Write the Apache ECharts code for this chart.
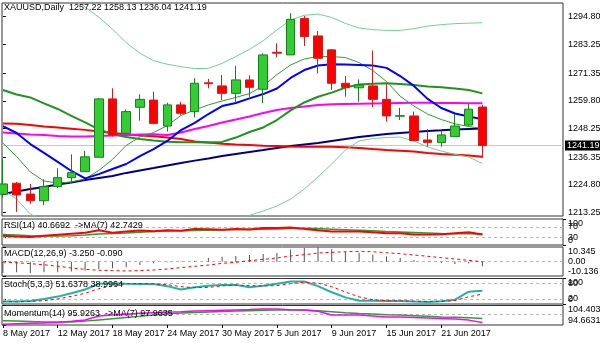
<!DOCTYPE html>
<html><head><meta charset="utf-8">
<script src="https://cdn.jsdelivr.net/npm/echarts@6/dist/echarts.min.js"></script>
<style>html,body{margin:0;padding:0;background:#fff}#c{width:600px;height:343px}</style>
</head><body><div id="c"></div>
<script>
// ---------- data ----------
const dates = ['8 May 2017','9 May 2017','10 May 2017','11 May 2017','12 May 2017','15 May 2017','16 May 2017','17 May 2017','18 May 2017','19 May 2017','22 May 2017','23 May 2017','24 May 2017','25 May 2017','26 May 2017','29 May 2017','30 May 2017','31 May 2017','1 Jun 2017','2 Jun 2017','5 Jun 2017','6 Jun 2017','7 Jun 2017','8 Jun 2017','9 Jun 2017','12 Jun 2017','13 Jun 2017','14 Jun 2017','15 Jun 2017','16 Jun 2017','19 Jun 2017','20 Jun 2017','21 Jun 2017','22 Jun 2017','23 Jun 2017','26 Jun 2017'];
const dateLabelIdx = [0,4,8,12,16,20,24,28,32];

const open  = [1220.9,1225.5,1221.0,1218.2,1224.1,1227.8,1230.3,1236.3,1260.6,1246.3,1257.1,1260.1,1249.3,1258.1,1255.3,1267.3,1266.0,1262.9,1268.5,1264.6,1280.0,1278.9,1294.1,1286.8,1281.0,1267.1,1265.2,1266.0,1260.4,1253.4,1253.5,1243.5,1242.4,1244.9,1249.7,1257.22];
const high  = [1235.5,1226.0,1225.2,1227.1,1231.7,1237.5,1239.0,1260.9,1265.0,1256.3,1262.5,1263.6,1259.0,1259.4,1269.2,1268.9,1270.5,1274.3,1270.4,1279.6,1283.7,1296.2,1295.1,1288.8,1281.3,1270.1,1268.7,1280.7,1266.7,1256.9,1255.3,1248.0,1247.4,1254.3,1258.5,1258.13];
const low   = [1219.5,1213.6,1216.9,1216.4,1223.5,1225.7,1230.3,1236.3,1244.9,1245.8,1251.5,1250.0,1247.0,1254.0,1252.9,1265.0,1260.1,1259.4,1261.5,1258.8,1277.9,1278.9,1282.6,1271.2,1264.3,1261.5,1259.4,1257.1,1251.1,1251.8,1243.0,1240.7,1240.7,1244.9,1249.3,1236.04];
const close = [1225.2,1220.6,1218.2,1224.1,1227.8,1229.9,1236.5,1260.6,1245.6,1255.3,1260.4,1250.4,1258.1,1254.6,1267.1,1266.9,1262.9,1268.5,1265.4,1278.9,1279.6,1293.7,1286.5,1277.5,1267.1,1265.4,1266.4,1260.4,1253.5,1253.6,1243.2,1242.4,1245.6,1249.3,1256.3,1241.19];

const bbUpper  = [1305.9,1306.7,1309.2,1307.6,1305.5,1302.6,1298.8,1294.6,1289.6,1284.0,1279.6,1276.5,1275.0,1274.0,1273.2,1273.3,1275.4,1278.2,1281.2,1284.8,1289.3,1293.4,1295.4,1295.9,1294.5,1292.0,1290.1,1289.4,1289.1,1289.1,1289.8,1290.9,1291.5,1291.9,1292.1,1292.3];
const bbMiddle = [1264.3,1262.4,1261.2,1258.7,1256.4,1253.5,1250.8,1247.9,1246.0,1244.7,1243.9,1243.3,1242.8,1242.6,1242.5,1242.4,1242.7,1244.5,1246.8,1248.7,1251.8,1255.8,1259.1,1261.5,1263.2,1265.3,1266.6,1266.9,1267.1,1266.8,1266.4,1265.8,1265.4,1264.9,1264.3,1262.9];
const bbLower  = [1222.7,1218.9,1212.7,1209.8,1207.3,1204.4,1202.7,1201.2,1202.4,1205.5,1208.2,1210.1,1210.6,1211.0,1211.3,1211.0,1210.1,1210.6,1212.1,1213.9,1216.0,1218.9,1223.1,1228.1,1233.5,1239.3,1243.1,1244.1,1244.5,1244.7,1243.1,1240.6,1238.9,1237.5,1236.4,1233.7];
const maThinGreen = [1242.2,1236.6,1230.2,1226.4,1225.6,1226.0,1227.3,1230.8,1235.4,1241.2,1244.8,1246.6,1249.5,1253.7,1256.0,1258.1,1259.7,1261.2,1262.8,1266.0,1270.7,1274.7,1277.2,1278.3,1278.2,1277.8,1275.7,1272.4,1267.8,1261.7,1257.6,1254.3,1252.0,1250.2,1249.1,1248.3];
const maBlue    = [1249.3,1246.4,1241.8,1238.1,1234.4,1230.6,1227.5,1229.3,1231.4,1233.5,1236.8,1239.7,1243.1,1247.6,1250.6,1254.3,1257.6,1258.9,1260.8,1262.6,1264.9,1269.3,1272.6,1274.5,1275.0,1274.9,1274.7,1274.5,1273.5,1270.1,1266.0,1260.6,1256.8,1254.5,1253.3,1252.1];
const maMagenta = [1246.6,1246.2,1245.8,1245.6,1245.2,1244.9,1244.9,1245.2,1245.4,1245.6,1245.8,1245.9,1245.6,1246.6,1248.1,1249.3,1250.8,1252.0,1253.3,1254.7,1256.0,1256.8,1257.4,1258.1,1258.4,1258.5,1258.6,1258.7,1258.8,1258.9,1259.0,1259.0,1258.9,1258.9,1258.8,1258.8];
const maRed     = [1250.4,1250.2,1249.7,1249.1,1248.7,1248.2,1247.7,1247.0,1246.4,1245.9,1245.4,1245.0,1244.5,1243.9,1242.9,1242.4,1241.9,1241.6,1241.4,1241.1,1241.0,1240.8,1240.7,1240.7,1240.7,1240.5,1240.2,1239.7,1239.3,1239.0,1238.7,1238.1,1237.7,1237.4,1237.0,1236.5];
const maNavy    = [1221.0,1222.1,1223.1,1223.9,1225.0,1225.8,1226.8,1227.7,1228.5,1229.8,1230.8,1231.8,1232.9,1233.9,1234.9,1235.8,1236.8,1237.7,1238.5,1239.3,1240.2,1241.0,1241.6,1242.2,1243.1,1243.9,1244.7,1245.4,1246.0,1246.4,1246.8,1247.2,1247.5,1247.9,1248.1,1248.3];

const rsi   = [36,33,31,36,39,43,47,57,47,52,56,53,57,55,62,61,59,62,60,65,65,67.5,62,57,52,52,52,49,45,45,40,40,41,45,49,40.6692];
const rsiMa = [40,38,36,35,35,36,38,42,44,46,49,52,54,55,56,57,58,59.5,60,61,62,63.5,64,63,61,59,57,55,52,50,48,46,44,43.5,43.5,42.7429];

const macd       = [-8.0,-7.5,-8.0,-7.5,-7.5,-7.0,-6.3,-5.2,-4.7,-4.0,-2.4,-1.2,-0.5,0.2,0.7,2.6,3.5,4.0,4.7,5.4,6.1,8.6,9.7,10.3,8.8,7.0,6.2,4.8,3.6,2.6,1.2,0.0,-1.0,-1.7,-1.3,-3.25];
const macdSignal = [-0.3,-0.8,-1.4,-2.2,-3.2,-4.5,-5.4,-6.1,-6.3,-6.6,-6.3,-5.9,-5.2,-4.2,-3.3,-2.4,-1.2,-0.5,0.7,1.6,2.6,4.0,4.9,6.1,6.6,7.0,7.3,7.0,6.3,5.6,4.7,3.8,2.8,1.9,0.9,-0.09];

const stochMain   = [9.4,9.4,12,20,29,42,57,79,81,79,78,78,70,57,66,72,75,75,66,72,79,88,88,70,46,26,13,13,12,12,9.4,8,11,17,48.5,51.6378];
const stochSignal = [10,9,10,13,20,30,42,60,72,80,80,79,76,68,64,65,71,74,72,71,72,80,85,82,68,47,28,17,13,12,11,10,9.5,14,28,38.9964];

const momentum   = [95.1,95.3,95.5,95.7,95.9,96.5,97.2,99.2,99.6,100.0,100.5,100.8,101.1,101.3,101.6,101.8,102.0,102.2,102.4,102.7,102.6,102.3,102.1,101.5,99.7,99.7,99.7,99.2,98.7,98.6,98.4,98.2,97.9,97.6,97.1,95.9263];
const momentumMa = [96.8,96.6,96.4,96.2,96.1,96.2,96.6,97.2,97.8,98.4,99.0,99.7,100.3,100.6,100.9,101.2,101.4,101.6,101.8,102.0,102.1,102.2,102.1,101.8,101.3,100.8,100.4,100.1,99.8,99.6,99.3,99.0,98.7,98.5,98.3,97.9635];

const priceTicks = [1213.25,1224.80,1236.35,1248.25,1259.80,1271.35,1283.25,1294.80];
const rsiLevels = [30,70];
const rsiEnds = [0,100];
const macdTicks = [-10.136,0,10.345];
const stochLevels = [20,80];
const stochEnds = [0,100];
const momTicks = [94.6631,104.4035];
const lastPrice = 1241.19;
const ohlcTitle = 'XAUUSD,Daily  1257.22 1258.13 1236.04 1241.19';

// ---------- chart ----------
const FONT = "'Liberation Sans Narrow','Liberation Sans',Arial,sans-serif";
const FS = 9;
const XMIN = -0.0657, XMAX = 40.883;
const grids = [
  {top:3, height:213},
  {top:219, height:26},
  {top:247, height:29},
  {top:278.5, height:25.5},
  {top:305.5, height:19.5}
].map(g => Object.assign({left:2, width:561, show:true, borderColor:'#333', borderWidth:1, backgroundColor:'#fff', containLabel:false, outerBoundsMode:'none'}, g));

function xAxisCfg(gi, showLabels){
  return {type:'value', gridIndex:gi, min:XMIN, max:XMAX,
    axisLine:{show:false}, splitLine:{show:false},
    axisTick: showLabels ? {show:true, customValues:dateLabelIdx, length:3, lineStyle:{color:'#000'}} : {show:false},
    axisLabel: showLabels ? {show:true, customValues:dateLabelIdx, formatter:v => dates[Math.round(v)] || '', align:'left', margin:4, fontSize:FS, color:'#000', fontFamily:FONT, hideOverlap:false} : {show:false}
  };
}
function yAxisCfg(gi, min, max, vals, fmt, ends){
  const lab = {show:true, customValues:vals, formatter:fmt, margin:5, fontSize:FS, color:'#000', fontFamily:FONT,
    showMinLabel:true, showMaxLabel:true, hideOverlap:false};
  if (ends){ lab.verticalAlignMinLabel='bottom'; lab.verticalAlignMaxLabel='top'; }
  return {type:'value', gridIndex:gi, position:'right', offset:0, min, max,
    axisLine:{show:false}, splitLine:{show:false},
    axisTick:{show:true, customValues:vals, length:3, lineStyle:{color:'#000'}},
    axisLabel: lab};
}
function pairs(arr){ return arr.map((v,i)=>[i,v]); }
function lineS(arr, gi, color, width, type, extra){
  return Object.assign({type:'line', xAxisIndex:gi, yAxisIndex:gi, data:pairs(arr), showSymbol:false, symbol:'none',
    lineStyle:{color, width, type:type||'solid'}, itemStyle:{color}, silent:true, clip:true, z:2}, extra||{});
}
function levels(vals){
  return {silent:true, symbol:['none','none'], label:{show:false}, z:1,
    lineStyle:{color:'#b4b4b4', type:[3,3], width:1}, data: vals.map(v=>({yAxis:v}))};
}
function titleCfg(text, top){
  return {text, left:4, top, padding:0, textStyle:{fontSize:FS, fontWeight:'normal', color:'#000', fontFamily:FONT}};
}

const option = {
  animation:false,
  backgroundColor:'#fff',
  title:[
    titleCfg(ohlcTitle, 3),
    titleCfg('RSI(14) 40.6692  ->MA(7) 42.7429', 221.5),
    titleCfg('MACD(12,26,9) -3.250 -0.090', 249.5),
    titleCfg('Stoch(5,3,3) 51.6378 38.9964', 280.5),
    titleCfg('Momentum(14) 95.9263  ->MA(7) 97.9635', 309)
  ],
  grid: grids,
  xAxis:[xAxisCfg(0,false), xAxisCfg(1,false), xAxisCfg(2,false), xAxisCfg(3,false), xAxisCfg(4,true)],
  yAxis:[
    yAxisCfg(0, 1211.86, 1300.5, priceTicks, v=>v.toFixed(2), false),
    yAxisCfg(1, 0, 100, rsiLevels, v=>String(v), false),
    yAxisCfg(2, -10.136, 10.345, macdTicks, v=> v===0 ? '0.00' : v.toFixed(3), true),
    yAxisCfg(3, 0, 100, stochLevels, v=>String(v), false),
    yAxisCfg(4, 94.6631, 104.4035, momTicks, v=>v.toFixed(4), true),
    yAxisCfg(1, 0, 100, rsiEnds, v=>String(v), true),
    yAxisCfg(3, 0, 100, stochEnds, v=>String(v), true)
  ],
  series:[
    lineS(maNavy, 0, '#000080', 2, 'solid', {clip:false, markLine:{silent:true, symbol:['none','none'], z:1,
      lineStyle:{color:'#c8c8c8', type:'solid', width:1},
      label:{show:true, position:'end', formatter:String(lastPrice), color:'#fff', backgroundColor:'#000', padding:[1,2,0,2], fontSize:FS, fontFamily:FONT, distance:2},
      data:[{yAxis:lastPrice}]}}),
    lineS(maRed, 0, '#ff0000', 2),
    lineS(maMagenta, 0, '#ff00ff', 2),
    lineS(bbUpper, 0, '#6fcf97', 1),
    lineS(bbLower, 0, '#6fcf97', 1),
    lineS(bbMiddle, 0, '#1e941e', 2),
    lineS(maThinGreen, 0, '#2f9e2f', 1),
    lineS(maBlue, 0, '#0000ff', 2),
    {type:'candlestick', xAxisIndex:0, yAxisIndex:0, barWidth:9, silent:true, z:3,
      data: open.map((o,i)=>[i, o, close[i], low[i], high[i]]),
      itemStyle:{color:'#32cd32', color0:'#ff0000', borderColor:'#1b7d1b', borderColor0:'#cf1d1d', borderWidth:1}},
    // RSI
    lineS(rsiMa, 1, '#2e9e2e', 1.5),
    lineS(rsi, 1, '#ff0000', 2, 'solid', {markLine: levels(rsiLevels)}),
    // MACD
    {type:'bar', xAxisIndex:2, yAxisIndex:2, data:pairs(macd), barWidth:1, itemStyle:{color:'#555'}, silent:true, markLine: levels([0])},
    lineS(macdSignal, 2, '#ff0000', 1, [3,3]),
    // Stochastic
    lineS(stochMain, 3, '#20b2aa', 2, 'solid', {markLine: levels(stochLevels)}),
    lineS(stochSignal, 3, '#ff0000', 1, [3,3]),
    // Momentum
    lineS(momentumMa, 4, '#2e9e2e', 1.5, 'solid', {markLine: levels([100])}),
    lineS(momentum, 4, '#ff00ff', 1.5)
  ]
};
const chart = echarts.init(document.getElementById('c'), null, {renderer:'canvas'});
chart.setOption(option);
</script></body></html>
